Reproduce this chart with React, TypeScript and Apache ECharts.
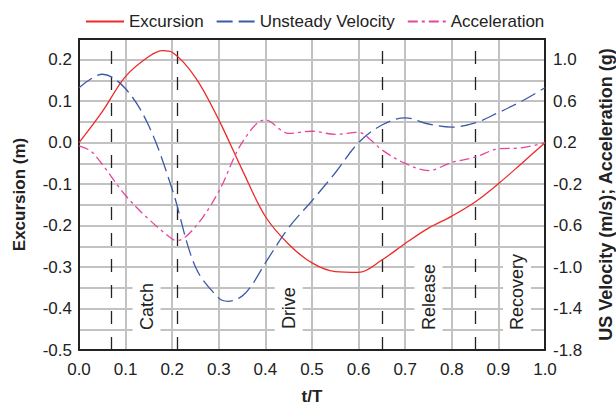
import React, { useEffect, useRef } from "react";
import * as echarts from "echarts";

const tExcursion = [0, 0.05, 0.1, 0.15, 0.18, 0.2, 0.25, 0.3, 0.35, 0.4, 0.45, 0.5, 0.55, 0.6, 0.65, 0.7, 0.75, 0.8, 0.85, 0.9, 0.95, 1];
const excursion = [0, 0.075, 0.16, 0.208, 0.222, 0.218, 0.157, 0.055, -0.065, -0.178, -0.245, -0.29, -0.311, -0.313, -0.283, -0.243, -0.206, -0.177, -0.143, -0.099, -0.05, 0];

const tVelocity = [0, 0.05, 0.1, 0.15, 0.2, 0.25, 0.3, 0.32, 0.35, 0.37, 0.4, 0.45, 0.5, 0.55, 0.6, 0.65, 0.7, 0.75, 0.8, 0.85, 0.9, 0.95, 1];
const velocity = [0.73, 0.86, 0.72, 0.36, -0.25, -1.0, -1.3, -1.33, -1.28, -1.18, -0.96, -0.62, -0.36, -0.09, 0.2, 0.37, 0.44, 0.38, 0.35, 0.39, 0.49, 0.6, 0.73];

const tAcceleration = [0, 0.025, 0.05, 0.1, 0.15, 0.2, 0.21, 0.25, 0.3, 0.35, 0.4, 0.45, 0.5, 0.55, 0.6, 0.625, 0.65, 0.7, 0.75, 0.8, 0.85, 0.9, 0.95, 1];
const acceleration = [0.17, 0.12, -0.01, -0.31, -0.54, -0.73, -0.745, -0.61, -0.27, 0.2, 0.42, 0.29, 0.31, 0.28, 0.3, 0.23, 0.13, 0.0, -0.07, 0.01, 0.06, 0.14, 0.15, 0.2];

const phaseBoundaries = [0.07, 0.21, 0.65, 0.85];
const phaseNames = ["Catch", "Drive", "Release", "Recovery"];
const phaseLabelT = [0.145, 0.45, 0.75, 0.94];
const phaseLabelCenterY = [-0.395, -0.399, -0.372, -0.36];

const FONT = "'Liberation Sans', Arial, Helvetica, sans-serif";

const zip = (a: number[], b: number[]) => a.map((v, i) => [v, b[i]]);

export default function App() {
  const ref = useRef<HTMLDivElement>(null);
  useEffect(() => {
    if (!ref.current) return;
    const chart = echarts.init(ref.current, undefined, { renderer: "svg" });
    const grey = "#c2c2c2";
    const dark = "#222";
    chart.setOption({
      animation: false,
      textStyle: { fontFamily: FONT },
      legend: {
        left: 80,
        top: 8,
        itemWidth: 38,
        itemHeight: 14,
        itemGap: 12,
        itemStyle: { color: "transparent", borderWidth: 0, opacity: 0 },
        textStyle: { fontSize: 17, color: dark, fontFamily: FONT },
        data: ["Excursion", "Unsteady Velocity", "Acceleration"],
      },
      grid: {
        left: 79,
        right: 71,
        top: 39,
        bottom: 55,
        show: false,
        containLabel: false,
        outerBoundsMode: "none",
      },
      xAxis: [
        {
          type: "value",
          min: 0,
          max: 1,
          interval: 0.1,
          name: "t/T",
          nameLocation: "middle",
          nameGap: 38,
          nameTextStyle: { fontSize: 17, fontWeight: "bold", color: dark, fontFamily: FONT },
          axisLine: { show: true, onZero: false, lineStyle: { color: dark, width: 2 } },
          axisTick: { show: false },
          axisLabel: { fontSize: 17, color: dark, margin: 11, formatter: (v: number) => v.toFixed(1) },
          splitLine: { show: true, lineStyle: { color: grey, width: 2 } },
        },
        {
          type: "value",
          position: "top",
          min: 0,
          max: 1,
          axisLine: { show: true, onZero: false, lineStyle: { color: dark, width: 2 } },
          axisTick: { show: false },
          axisLabel: { show: false },
          splitLine: { show: false },
        },
      ],
      yAxis: [
        {
          type: "value",
          min: -0.5,
          max: 0.25,
          interval: 0.05,
          name: "Excursion (m)",
          nameLocation: "middle",
          nameGap: 51,
          nameTextStyle: { fontSize: 17, fontWeight: "bold", color: dark, fontFamily: FONT },
          axisLine: { show: true, onZero: false, lineStyle: { color: dark, width: 2 } },
          axisTick: { show: false },
          axisLabel: {
            fontSize: 17,
            color: dark,
            margin: 7,
            formatter: (v: number) =>
              Math.abs(v * 10 - Math.round(v * 10)) < 1e-6 ? v.toFixed(1) : "",
          },
          splitLine: { show: true, lineStyle: { color: grey, width: 2 } },
        },
        {
          type: "value",
          min: -1.8,
          max: 1.2,
          interval: 0.2,
          position: "right",
          name: "US Velocity (m/s); Acceleration (g)",
          nameLocation: "middle",
          nameGap: 52,
          nameTextStyle: { fontSize: 18, fontWeight: "bold", color: dark, fontFamily: FONT },
          axisLine: { show: true, onZero: false, lineStyle: { color: dark, width: 2 } },
          axisTick: { show: false },
          axisLabel: {
            fontSize: 17,
            color: dark,
            margin: 8,
            formatter: (v: number) => {
              const k = (v + 1.8) / 0.4;
              return Math.abs(k - Math.round(k)) < 1e-6 ? v.toFixed(1) : "";
            },
          },
          splitLine: { show: false },
        },
      ],
      series: [
        {
          name: "Excursion",
          type: "line",
          yAxisIndex: 0,
          smooth: 0.35,
          symbol: "none",
          lineStyle: { color: "#ee2a2a", width: 1.3 },
          itemStyle: { color: "#ee2a2a" },
          data: zip(tExcursion, excursion),
          z: 4,
          markLine: {
            silent: true,
            symbol: "none",
            label: { show: false },
            lineStyle: { color: dark, width: 1.3, type: [13, 13] },
            data: phaseBoundaries.map((x) => ({ xAxis: x })),
            z: 3,
          },
        },
        {
          name: "Unsteady Velocity",
          type: "line",
          yAxisIndex: 1,
          smooth: 0.35,
          symbol: "none",
          lineStyle: { color: "#3d5aa8", width: 1.3, type: [16, 6] },
          itemStyle: { color: "#3d5aa8" },
          data: zip(tVelocity, velocity),
          z: 4,
        },
        {
          name: "Acceleration",
          type: "line",
          yAxisIndex: 1,
          smooth: 0.35,
          symbol: "none",
          lineStyle: { color: "#e8449c", width: 1.3, type: [10, 4, 3, 4] },
          itemStyle: { color: "#e8449c" },
          data: zip(tAcceleration, acceleration),
          z: 4,
        },
        {
          name: "phases",
          type: "scatter",
          yAxisIndex: 0,
          symbolSize: 0,
          silent: true,
          z: 5,
          itemStyle: { opacity: 1 },
          label: {
            show: true,
            rotate: 90,
            position: "inside",
            fontSize: 18,
            color: dark,
            fontFamily: FONT,
            backgroundColor: "#fff",
            padding: [5, 5, 5, 5],
            formatter: (p: any) => phaseNames[p.dataIndex],
          },
          data: phaseLabelT.map((t, i) => [t, phaseLabelCenterY[i]]),
        },
      ],
    });
    return () => chart.dispose();
  }, []);
  return (
    <div
      ref={ref}
      style={{ position: "absolute", left: 0, top: 0, width: 616, height: 405 }}
    />
  );
}
